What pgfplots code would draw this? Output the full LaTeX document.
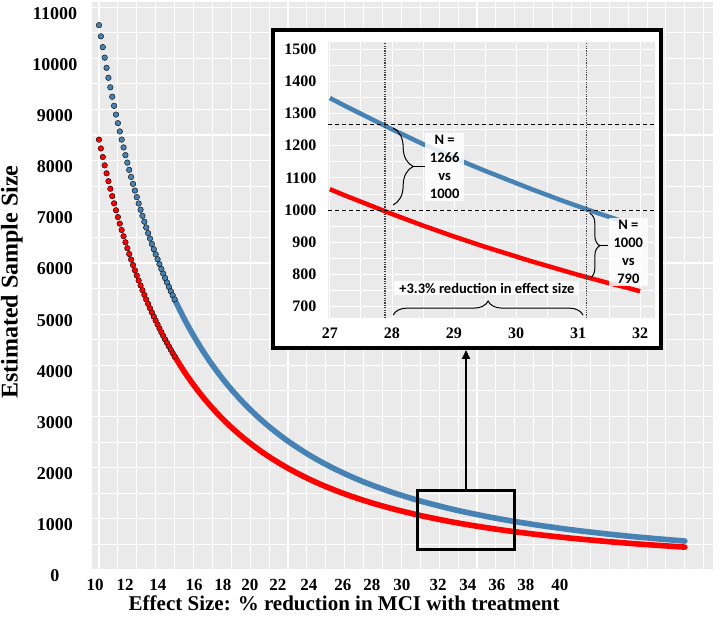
\documentclass[border=0pt]{standalone}
\usepackage{fontspec}
\setmainfont{Liberation Serif}
\newfontfamily\calibri{Carlito}
\usepackage{pgfplots}
\pgfplotsset{compat=1.18}
\usetikzlibrary{decorations.pathreplacing, arrows.meta}
\definecolor{sblue}{RGB}{70,130,180}
\definecolor{sred}{RGB}{255,0,0}
\definecolor{panel}{RGB}{234,234,234}
\begin{document}
\begin{tikzpicture}[x=1pt,y=1pt]
\path[use as bounding box] (0,0) rectangle (720,620);
\begin{axis}[
  at={(92pt,50pt)}, anchor=south west,
  scale only axis, width=621pt, height=568pt,
  xmin=9.63, xmax=42.49, ymin=0, ymax=11100,
  axis background/.style={fill=panel},
  axis line style={draw=none},
  major tick length=0pt, minor tick length=0pt,
  xtick={9.79,11.38,13.12,15.03,16.56,17.99,19.47,21.11,22.91,24.44,26.03,27.94,29.52,31.06,32.59,34.39},
  xticklabels={10,12,14,16,18,20,22,24,26,28,30,32,34,36,38,40},
  minor xtick={10,11,...,42},
  xminorgrids=true, xmajorgrids=false,
  ytick={0,1000,2000,3000,4000,5000,6000,7000,8000,9000,10000,11000},
  yticklabels={0,1000,2000,3000,4000,5000,6000,7000,8000,9000,10000,11000},
  minor ytick={500,1500,...,10500},
  ymajorgrids=true, yminorgrids=true,
  grid style={white, line width=1.1pt},
  minor grid style={white, line width=1.1pt},
  xticklabel style={font=\rmfamily\bfseries\fontsize{17}{17}\selectfont, anchor=center, yshift=-15pt},
  yticklabel style={font=\rmfamily\bfseries\fontsize{18}{18}\selectfont, anchor=center, inner sep=1pt, xshift=-37pt, yshift=-6pt},
  xlabel={Effect Size: \% reduction in MCI with treatment},
  xlabel style={font=\rmfamily\bfseries\fontsize{21}{21}\selectfont, at={(axis description cs:0.406,-0.058)}, anchor=center},
  ylabel={Estimated Sample Size},
  ylabel style={font=\rmfamily\bfseries\fontsize{24}{24}\selectfont, at={(axis description cs:-0.129,0.507)}, anchor=center},
]
% blue series
\addplot[only marks, mark=*, mark size=2.8pt, mark options={draw=none, fill=sblue}] coordinates {
(10.0,10647) (10.1,10429) (10.2,10217) (10.3,10012) (10.4,9814) (10.5,9619) (10.6,9432) (10.7,9249) (10.8,9071) (10.9,8900) (11.0,8732) (11.1,8570) (11.2,8411) (11.3,8257) (11.4,8107) (11.5,7961) (11.6,7819) (11.7,7681) (11.8,7545) (11.9,7415) (12.0,7286) (12.1,7162) (12.2,7040) (12.3,6922) (12.4,6806) (12.5,6693) (12.6,6583) (12.7,6477) (12.8,6371) (12.9,6269) (13.0,6169) (13.1,6072) (13.2,5977) (13.3,5883) (13.4,5792) (13.5,5705) (13.6,5617) (13.7,5531) (13.8,5448) (13.9,5368) (14.0,5288)};
\addplot[sblue, line width=5.6pt, smooth, line cap=round] coordinates {
(14.0,5288) (14.5,4916) (15,4582) (15.5,4279) (16,4006) (16.5,3757) (17,3531) (17.5,3324) (18,3136) (18.5,2961) (19,2802) (19.5,2655) (20,2518) (20.5,2393) (21,2275) (21.5,2166) (22,2065) (22.5,1971) (23,1883) (23.5,1800) (24,1723) (24.5,1651) (25,1584) (25.5,1519) (26,1460) (26.5,1403) (27,1348) (27.5,1299) (28,1251) (28.5,1205) (29,1162) (29.5,1122) (30,1084) (30.5,1047) (31,1012) (31.5,979) (32,947) (32.5,918) (33,889) (33.5,861) (34,836) (34.5,810) (35,786) (35.5,763) (36,742) (36.5,720) (37,700) (37.5,681) (38,662) (38.5,644) (39,628) (39.5,611) (40,596) (40.5,581) (41,566)};
% red series
\addplot[only marks, mark=*, mark size=2.8pt, mark options={draw=none, fill=sred}] coordinates {
(10.0,8410) (10.1,8238) (10.2,8070) (10.3,7908) (10.4,7752) (10.5,7598) (10.6,7450) (10.7,7306) (10.8,7165) (10.9,7030) (11.0,6897) (11.1,6769) (11.2,6644) (11.3,6522) (11.4,6404) (11.5,6288) (11.6,6176) (11.7,6067) (11.8,5960) (11.9,5857) (12.0,5755) (12.1,5657) (12.2,5561) (12.3,5468) (12.4,5376) (12.5,5287) (12.6,5200) (12.7,5116) (12.8,5032) (12.9,4952) (13.0,4873) (13.1,4796) (13.2,4721) (13.3,4647) (13.4,4575) (13.5,4506) (13.6,4437) (13.7,4369) (13.8,4303) (13.9,4240) (14.0,4177)};
\addplot[sred, line width=5.6pt, smooth, line cap=round] coordinates {
(14.0,4177) (14.5,3883) (15,3619) (15.5,3380) (16,3164) (16.5,2968) (17,2789) (17.5,2626) (18,2477) (18.5,2339) (19,2213) (19.5,2097) (20,1989) (20.5,1890) (21,1797) (21.5,1711) (22,1631) (22.5,1557) (23,1487) (23.5,1422) (24,1361) (24.5,1304) (25,1251) (25.5,1200) (26,1153) (26.5,1108) (27,1065) (27.5,1026) (28,988) (28.5,952) (29,918) (29.5,886) (30,856) (30.5,827) (31,799) (31.5,773) (32,748) (32.5,725) (33,702) (33.5,680) (34,660) (34.5,640) (35,621) (35.5,603) (36,586) (36.5,569) (37,553) (37.5,538) (38,523) (38.5,509) (39,496) (39.5,483) (40,471) (40.5,459) (41,447)};
\draw[line width=3pt] (axis cs:26.85,410) rectangle (axis cs:32.0,1545);
\end{axis}
% inset frame
\draw[line width=4pt, fill=white] (273,272) rectangle (661,590);
\draw[line width=2pt, -{Triangle[length=9pt,width=8pt]}] (466,129) -- (466,270);
\begin{axis}[
  at={(328pt,302pt)}, anchor=south west,
  scale only axis, width=327pt, height=276pt,
  xmin=26.97, xmax=32.24, ymin=665, ymax=1522,
  axis background/.style={fill=panel},
  axis line style={draw=none},
  major tick length=0pt, minor tick length=0pt,
  xtick={27,28,29,30,31,32},
  xticklabels={27,28,29,30,31,32},
  ytick={700,800,900,1000,1100,1200,1300,1400,1500},
  yticklabels={700,800,900,1000,1100,1200,1300,1400,1500},
  minor x tick num=1, minor y tick num=1,
  xmajorgrids=true, xminorgrids=true, ymajorgrids=true, yminorgrids=true,
  grid style={white, line width=0.8pt},
  minor grid style={white, line width=0.8pt},
  xticklabel style={font=\rmfamily\bfseries\fontsize{16}{16}\selectfont, anchor=center, yshift=-15pt},
  yticklabel style={font=\rmfamily\bfseries\fontsize{16}{16}\selectfont, anchor=east, xshift=-8pt},
  clip=false,
]
\addplot[sblue, line width=4.5pt, line join=round] coordinates {
(27,1348) (27.25,1323) (27.5,1299) (27.75,1275) (28,1251) (28.25,1228) (28.5,1205) (28.75,1184) (29,1162) (29.25,1142) (29.5,1122) (29.75,1103) (30,1084) (30.25,1065) (30.5,1047) (30.75,1029) (31,1012) (31.25,995) (31.5,979) (31.75,963)};
\addplot[sred, line width=4.5pt, line join=round] coordinates {
(27,1065) (27.25,1045) (27.5,1026) (27.75,1007) (28,988) (28.25,970) (28.5,952) (28.75,935) (29,918) (29.25,902) (29.5,886) (29.75,871) (30,856) (30.25,841) (30.5,827) (30.75,813) (31,799) (31.25,786) (31.5,773) (31.75,761) (32,748)};
\draw[line width=1.2pt, dash pattern=on 4pt off 3pt] (axis cs:26.97,1266) -- (axis cs:32.24,1266);
\draw[line width=1.2pt, dash pattern=on 4pt off 3pt] (axis cs:26.97,1000) -- (axis cs:32.24,1000);
\draw[line width=1.2pt, dash pattern=on 1.2pt off 1.2pt, black!75] (axis cs:27.89,665) -- (axis cs:27.89,1522);
\draw[line width=1.2pt, dash pattern=on 1.2pt off 1.2pt, black!75] (axis cs:31.13,665) -- (axis cs:31.13,1522);
% braces
\draw[line width=1pt, decorate, decoration={brace, amplitude=20pt}] (axis cs:28.02,1255) -- (axis cs:28.02,1016);
\draw[line width=1pt] (axis cs:28.34,1135) -- (axis cs:28.53,1135);
\draw[line width=1pt, decorate, decoration={brace, amplitude=10pt}] (axis cs:31.19,990) -- (axis cs:31.19,789);
\draw[line width=1pt] (axis cs:31.35,889) -- (axis cs:31.48,889);
\draw[line width=1pt, decorate, decoration={brace, amplitude=14pt}] (axis cs:28.02,674) -- (axis cs:31.08,674);
% labels
\node[fill=white, fill opacity=0.85, text opacity=1, inner xsep=5pt, inner ysep=2pt, align=center, font=\calibri\bfseries\fontsize{14.5}{18}\selectfont] at (axis cs:28.85,1134) {N =\\1266\\vs\\1000};
\node[fill=white, fill opacity=0.85, text opacity=1, inner xsep=5pt, inner ysep=2pt, align=center, font=\calibri\bfseries\fontsize{14.5}{18}\selectfont] at (axis cs:31.81,870) {N =\\1000\\vs\\790};
\node[fill=white, fill opacity=0.9, text opacity=1, inner xsep=5pt, inner ysep=2pt, align=center, font=\calibri\bfseries\fontsize{14.5}{18}\selectfont] at (axis cs:29.53,758) {+3.3\% reduction in effect size};
\end{axis}
\end{tikzpicture}
\end{document}
